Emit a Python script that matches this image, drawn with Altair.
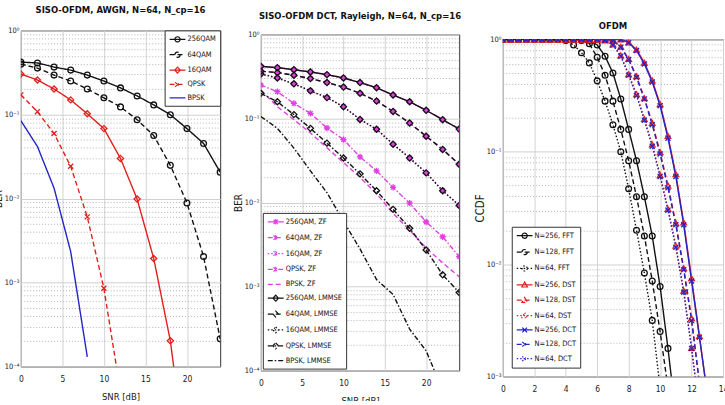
import altair as alt
import pandas as pd

FONT = "Liberation Sans Narrow, DejaVu Sans Condensed, Liberation Sans, sans-serif"
BLACK = "#111111"
RED = "#e0201c"
BLUE = "#2424c8"
MAGENTA = "#e040e0"

# ---------------- SISO-OFDM over AWGN ----------------
snr_db = [0, 2, 4, 6, 8, 10, 12, 14, 16, 18, 20, 22, 24]
awgn_256qam = [0.42, 0.41, 0.366, 0.337, 0.294, 0.25, 0.207, 0.166, 0.130, 0.0993, 0.0679, 0.0452, 0.0206]
awgn_64qam = [0.397, 0.356, 0.294, 0.25, 0.201, 0.158, 0.123, 0.0867, 0.0561, 0.0248, 0.00885, 0.00204, 0.000214]
awgn_16qam_snr = [0, 2, 4, 6, 8, 10, 12, 14, 16, 18, 20]
awgn_16qam = [0.303, 0.257, 0.201, 0.149, 0.102, 0.0679, 0.030, 0.00986, 0.00193, 0.000203, 0.000006]
awgn_qpsk_snr = [0, 2, 4, 6, 8, 10, 12]
awgn_qpsk = [0.171, 0.108, 0.0593, 0.0242, 0.00605, 0.000855, 0.00005]
awgn_bpsk_snr = [0, 2, 4, 6, 8]
awgn_bpsk = [0.0844, 0.0416, 0.0133, 0.00234, 0.000131]

# ---------------- SISO-OFDM DCT over Rayleigh ----------------
ray_256qam = [0.417, 0.402, 0.380, 0.357, 0.332, 0.303, 0.267, 0.232, 0.190, 0.158, 0.125, 0.0966, 0.0748]
ray_64qam = [0.364, 0.351, 0.327, 0.298, 0.267, 0.236, 0.199, 0.161, 0.121, 0.0881, 0.0614, 0.0428, 0.0285]
ray_16qam = [0.338, 0.303, 0.258, 0.213, 0.177, 0.138, 0.0973, 0.0743, 0.0494, 0.0338, 0.0225, 0.0138, 0.00922]
ray_qpsk_zf = [0.249, 0.208, 0.151, 0.115, 0.0769, 0.0561, 0.0348, 0.0238, 0.0151, 0.00982, 0.00586, 0.00391, 0.00227]
ray_qpsk_lmmse = [0.199, 0.158, 0.111, 0.0762, 0.0508, 0.0338, 0.0219, 0.0138, 0.00828, 0.00494, 0.00272, 0.00138, 0.00085]
ray_bpsk_zf = [0.218, 0.138, 0.0966, 0.0672, 0.0448, 0.0298, 0.0199, 0.0127, 0.00743, 0.00469, 0.00288, 0.00191, 0.00131]
ray_bpsk_lmmse_snr = [0, 2, 4, 6, 8, 10, 12, 14, 16, 18, 20, 21]
ray_bpsk_lmmse = [0.1056, 0.0762, 0.0444, 0.0238, 0.0131, 0.00598, 0.0028, 0.00121, 0.000805, 0.000312, 0.000172, 0.0001]

# ---------------- PAPR CCDF ----------------
papr_db = [0, 0.5, 1, 1.5, 2, 2.5, 3, 3.5, 4, 4.5, 5, 5.5, 6, 6.5, 7, 7.5, 8, 8.5, 9,
           9.5, 10, 10.5, 11, 11.5, 12, 12.5, 13, 13.5, 14]
ccdf_fft_256 = [1, 1, 1, 1, 1, 1, 1, 1, 1, 1, 1,
                0.977, 0.891, 0.708, 0.501, 0.295, 0.158, 0.0832, 0.0398, 0.0178, 0.00631, 0.00178, 0.000447]
ccdf_fft_128 = [1, 1, 1, 1, 1, 1, 1, 1, 1, 1,
                0.977, 0.912, 0.692, 0.479, 0.282, 0.158, 0.0832, 0.0398, 0.0178, 0.00708, 0.00251, 0.000794]
ccdf_fft_64 = [1, 1, 1, 1, 1, 1, 1, 1,
               0.977, 0.891, 0.759, 0.617, 0.427, 0.282, 0.174, 0.1, 0.0468, 0.02, 0.00832, 0.00316, 0.000794]
ccdf_dst_256 = [1, 1, 1, 1, 1, 1, 1, 1, 1, 1, 1, 1, 1, 1, 1, 1,
                0.94, 0.81, 0.62, 0.43, 0.265, 0.138, 0.063, 0.0235, 0.0075, 0.0023, 0.00068]
ccdf_dst_128 = [1, 1, 1, 1, 1, 1, 1, 1, 1, 1, 1, 1, 1, 1,
                0.975, 0.86, 0.67, 0.47, 0.30, 0.18, 0.099, 0.05, 0.0232, 0.0092, 0.0033, 0.00085]
ccdf_dst_64 = [1, 1, 1, 1, 1, 1, 1, 1, 1, 1, 1, 1, 1,
               0.98, 0.90, 0.72, 0.49, 0.325, 0.196, 0.116, 0.062, 0.031, 0.0146, 0.0058, 0.0018, 0.00048]
ccdf_dct_256 = [1, 1, 1, 1, 1, 1, 1, 1, 1, 1, 1, 1, 1, 1, 1, 1,
                0.933, 0.794, 0.603, 0.417, 0.257, 0.132, 0.0603, 0.0224, 0.00708, 0.00224, 0.000708]
ccdf_dct_128 = [1, 1, 1, 1, 1, 1, 1, 1, 1, 1, 1, 1, 1, 1,
                0.977, 0.851, 0.661, 0.457, 0.295, 0.174, 0.0955, 0.0479, 0.0224, 0.00891, 0.00316, 0.000891]
ccdf_dct_64 = [1, 1, 1, 1, 1, 1, 1, 1, 1, 1, 1, 1, 1,
               0.977, 0.891, 0.708, 0.479, 0.316, 0.191, 0.112, 0.0603, 0.0302, 0.0141, 0.00562, 0.00178, 0.000501]

# ---------------- line / marker styles ----------------
DASH = {"solid": [1, 0], "dash": [5, 3], "dot": [1.5, 2], "dashdot": [5, 2, 1.5, 2]}
MARKER = {
    "circle": "circle",
    "diamond": "diamond",
    "triangle": "triangle-up",
    "x": "M-1,-1L1,1M-1,1L1,-1",
    "star": "M-1,0L1,0M0,-1L0,1M-0.7,-0.7L0.7,0.7M-0.7,0.7L0.7,-0.7",
}
MARKER_SIZE = {"circle": 34, "diamond": 38, "triangle": 32, "x": 26, "star": 40}
# legend glyphs: a short line segment with the marker drawn in its middle
LEGEND_GLYPH = {
    None: "M-1,0L3,0",
    "circle": "M-1,0L3,0M1.65,0A0.65,0.65 0 1 1 0.35,0A0.65,0.65 0 1 1 1.65,0",
    "diamond": "M-1,0L3,0M1,-0.75L1.7,0L1,0.75L0.3,0Z",
    "triangle": "M-1,0L3,0M1,-0.7L1.7,0.55L0.3,0.55Z",
    "x": "M-1,0L3,0M0.4,-0.6L1.6,0.6M0.4,0.6L1.6,-0.6",
    "star": "M-1,0L3,0M1,-0.7L1,0.7M0.45,-0.55L1.55,0.55M0.45,0.55L1.55,-0.55",
}
SUP = {0: "\u2070", -1: "\u207b\u00b9", -2: "\u207b\u00b2", -3: "\u207b\u00b3", -4: "\u207b\u2074"}
INDEPENDENT = dict(color="independent", strokeDash="independent", shape="independent")


def long_table(series):
    rows = []
    for name, xs, ys in series:
        for xv, yv in zip(xs, ys):
            rows.append({"x": xv, "y": yv, "series": name})
    return pd.DataFrame(rows)


def log_axis_values(lowest_exp):
    vals = [m * 10 ** e for e in range(lowest_exp, 0) for m in range(1, 10)]
    return vals + [1]


def decade_expr(lowest_exp):
    parts = []
    for e in range(0, lowest_exp - 1, -1):
        parts.append(f"datum.value == {10 ** e!r} ? '10{SUP[e]}'")
    return " : ".join(parts) + " : ''"


def panel(df, names, styles, x_domain, x_values, x_title, low_exp, y_title, y_title_size,
          title, title_offset, legend_orient, legend_offset, width, height, row_pad):
    decades = [10 ** e for e in range(low_exp, 1)]
    major_test = "indexof(" + repr(decades) + ", datum.value) >= 0"
    color_scale = alt.Scale(domain=names, range=[styles[n][0] for n in names])
    dash_scale = alt.Scale(domain=names, range=[DASH[styles[n][1]] for n in names])
    glyph_scale = alt.Scale(domain=names, range=[LEGEND_GLYPH[styles[n][2]] for n in names])

    x = alt.X("x:Q", scale=alt.Scale(domain=x_domain, nice=False, zero=False),
              axis=alt.Axis(values=x_values, title=x_title, grid=True, gridColor="#d2d2d2",
                            ticks=False, domain=False, labelFlush=False, labelFont=FONT,
                            labelFontSize=8.5, labelPadding=8, labelColor="#1a1a1a",
                            titleFont=FONT, titleFontSize=9.5, titleFontWeight="normal",
                            titleColor="#1a1a1a", titlePadding=9))
    y = alt.Y("y:Q", scale=alt.Scale(type="log", domain=[10 ** low_exp, 1], nice=False),
              axis=alt.Axis(values=log_axis_values(low_exp), labelExpr=decade_expr(low_exp),
                            labelOverlap=False, grid=True,
                            gridDash={"condition": {"test": major_test, "value": []}, "value": [1, 2]},
                            gridColor={"condition": {"test": major_test, "value": "#cfcfcf"},
                                       "value": "#b4b4b4"},
                            ticks=False, domain=False, labelFont=FONT, labelFontSize=7.5,
                            labelPadding=2, labelColor="#1a1a1a", title=y_title,
                            titleFont=FONT, titleFontSize=y_title_size,
                            titleFontWeight="normal", titleColor="#1a1a1a", titlePadding=1))

    leg = alt.Legend(title=None, orient=legend_orient, offset=legend_offset,
                     fillColor="white", strokeColor="#333333", padding=4,
                     labelFont=FONT, labelFontSize=7.5, labelColor="#111111",
                     symbolSize=64, symbolStrokeWidth=1.2, symbolOpacity=1,
                     labelOffset=9, rowPadding=row_pad)
    color = alt.Color("series:N", scale=color_scale, legend=leg)
    dash = alt.StrokeDash("series:N", scale=dash_scale, legend=leg)

    base = alt.Chart(df)
    layers = [base.mark_line(strokeWidth=1.4, clip=True).encode(x=x, y=y, color=color, strokeDash=dash)]
    used = []
    for n in names:
        m = styles[n][2]
        if m is not None and m not in used:
            used.append(m)
    for m in used:
        members = [n for n in names if styles[n][2] == m]
        layers.append(
            base.transform_filter(alt.FieldOneOfPredicate(field="series", oneOf=members))
            .mark_point(filled=False, opacity=1, size=MARKER_SIZE[m], strokeWidth=1.3,
                        shape=MARKER[m], clip=True)
            .encode(x=x, y=y, color=color)
        )
    # legend-only layer: carries the line+marker glyph for each series
    layers.append(
        base.transform_filter("false")
        .mark_point(filled=False, opacity=1, strokeWidth=1.2)
        .encode(x=x, y=y, color=color, strokeDash=dash,
                shape=alt.Shape("series:N", scale=glyph_scale, legend=leg))
    )
    return alt.layer(*layers).properties(
        width=width, height=height,
        title=alt.TitleParams(text=title, font=FONT, fontSize=9.5, fontWeight="bold",
                              color="#111111", anchor="middle", offset=title_offset),
    )


def spacer(h, w):
    return (
        alt.Chart(pd.DataFrame({"v": [0]}))
        .mark_point(opacity=0)
        .encode(x=alt.X("v:Q", axis=None), y=alt.Y("v:Q", axis=None))
        .properties(width=w, height=h, view=alt.ViewBackground(stroke="transparent"))
    )


# ---- panel 1 ----
awgn_names = ["256QAM", "64QAM", "16QAM", "QPSK", "BPSK"]
awgn_styles = {
    "256QAM": (BLACK, "solid", "circle"),
    "64QAM": (BLACK, "dash", "circle"),
    "16QAM": (RED, "solid", "diamond"),
    "QPSK": (RED, "dash", "x"),
    "BPSK": (BLUE, "solid", None),
}
awgn_df = long_table([
    ("256QAM", snr_db, awgn_256qam),
    ("64QAM", snr_db, awgn_64qam),
    ("16QAM", awgn_16qam_snr, awgn_16qam),
    ("QPSK", awgn_qpsk_snr, awgn_qpsk),
    ("BPSK", awgn_bpsk_snr, awgn_bpsk),
])
p1 = panel(awgn_df, awgn_names, awgn_styles, [0, 24], [0, 5, 10, 15, 20], "SNR [dB]", -4,
           "BER", 10, "SISO-OFDM, AWGN, N=64, N_cp=16", 12, "top-right", 0, 201, 339, 3.5)

# ---- panel 2 ----
ray_names = ["256QAM, ZF", "64QAM, ZF", "16QAM, ZF", "QPSK, ZF", "BPSK, ZF",
             "256QAM, LMMSE", "64QAM, LMMSE", "16QAM, LMMSE", "QPSK, LMMSE", "BPSK, LMMSE"]
ray_styles = {
    "256QAM, ZF": (MAGENTA, "solid", "star"),
    "64QAM, ZF": (MAGENTA, "dash", "star"),
    "16QAM, ZF": (MAGENTA, "dot", "star"),
    "QPSK, ZF": (MAGENTA, "dashdot", "star"),
    "BPSK, ZF": (MAGENTA, "dash", None),
    "256QAM, LMMSE": (BLACK, "solid", "diamond"),
    "64QAM, LMMSE": (BLACK, "dash", "diamond"),
    "16QAM, LMMSE": (BLACK, "dot", "diamond"),
    "QPSK, LMMSE": (BLACK, "dashdot", "diamond"),
    "BPSK, LMMSE": (BLACK, "dashdot", None),
}
ray_df = long_table([
    ("256QAM, ZF", snr_db, ray_256qam),
    ("64QAM, ZF", snr_db, ray_64qam),
    ("16QAM, ZF", snr_db, ray_16qam),
    ("QPSK, ZF", snr_db, ray_qpsk_zf),
    ("BPSK, ZF", snr_db, ray_bpsk_zf),
    ("256QAM, LMMSE", snr_db, ray_256qam),
    ("64QAM, LMMSE", snr_db, ray_64qam),
    ("16QAM, LMMSE", snr_db, ray_16qam),
    ("QPSK, LMMSE", snr_db, ray_qpsk_lmmse),
    ("BPSK, LMMSE", ray_bpsk_lmmse_snr, ray_bpsk_lmmse),
])
p2 = panel(ray_df, ray_names, ray_styles, [0, 24], [0, 5, 10, 15, 20], "SNR [dB]", -4,
           "BER", 10, "SISO-OFDM DCT, Rayleigh, N=64, N_cp=16", 10, "bottom-left", 2, 200, 339, 4)

# ---- panel 3 ----
papr_names = ["N=256, FFT", "N=128, FFT", "N=64, FFT", "N=256, DST", "N=128, DST",
              "N=64, DST", "N=256, DCT", "N=128, DCT", "N=64, DCT"]
papr_styles = {
    "N=256, FFT": (BLACK, "solid", "circle"),
    "N=128, FFT": (BLACK, "dash", "circle"),
    "N=64, FFT": (BLACK, "dot", "circle"),
    "N=256, DST": (RED, "solid", "triangle"),
    "N=128, DST": (RED, "dash", "triangle"),
    "N=64, DST": (RED, "dot", "triangle"),
    "N=256, DCT": (BLUE, "solid", "x"),
    "N=128, DCT": (BLUE, "dash", "x"),
    "N=64, DCT": (BLUE, "dot", "x"),
}
papr_df = long_table([
    ("N=256, FFT", papr_db, ccdf_fft_256),
    ("N=128, FFT", papr_db, ccdf_fft_128),
    ("N=64, FFT", papr_db, ccdf_fft_64),
    ("N=256, DST", papr_db, ccdf_dst_256),
    ("N=128, DST", papr_db, ccdf_dst_128),
    ("N=64, DST", papr_db, ccdf_dst_64),
    ("N=256, DCT", papr_db, ccdf_dct_256),
    ("N=128, DCT", papr_db, ccdf_dct_128),
    ("N=64, DCT", papr_db, ccdf_dct_64),
])
p3 = panel(papr_df, papr_names, papr_styles, [0, 14], [0, 2, 4, 6, 8, 10, 12, 14], "PAPR", -3,
           "CCDF", 11.5, "OFDM", 5, "bottom-left", 9, 222, 340, 4.5)

chart = (
    alt.hconcat(
        p1,
        alt.vconcat(spacer(4, 200), p2, spacing=0, bounds="flush").resolve_scale(**INDEPENDENT),
        alt.vconcat(spacer(9, 222), p3, spacing=0, bounds="flush").resolve_scale(**INDEPENDENT),
        spacing=11,
    )
    .resolve_scale(**INDEPENDENT)
    .properties(padding={"left": -8, "top": 3, "right": -4, "bottom": -13}, background="white")
    .configure_view(stroke="#333333", strokeWidth=1)
)

chart.save("out.html", embed_options={"renderer": "svg", "actions": False})
